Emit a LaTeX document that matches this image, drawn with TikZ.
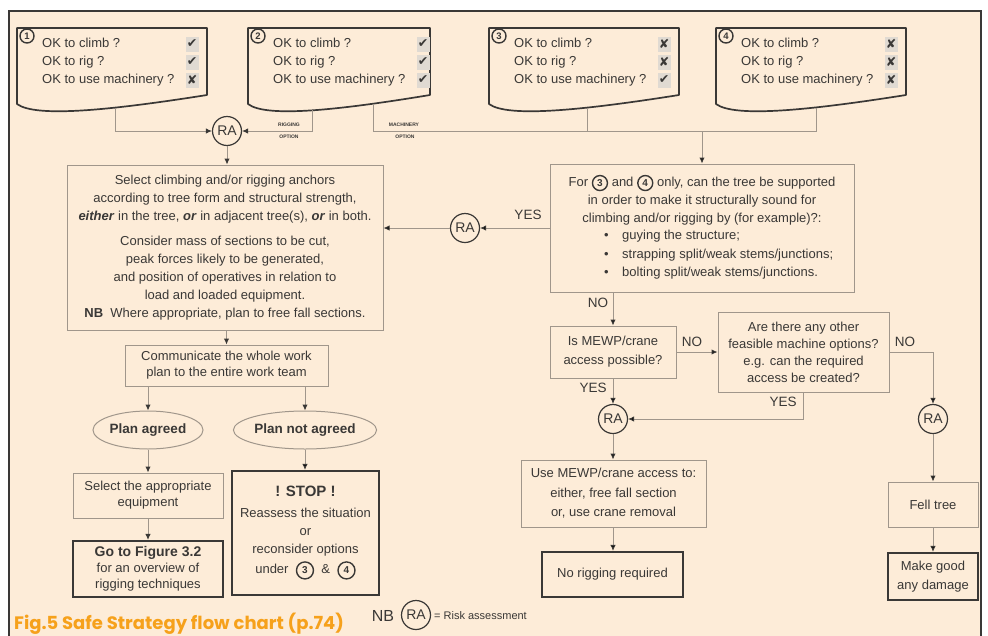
\documentclass[tikz,border=0pt]{standalone}
\usepackage{fontspec}
\setmainfont{Liberation Sans}
\newfontfamily\symf{DejaVu Sans}
\newfontfamily\capf{Poppins}
\usetikzlibrary{arrows.meta,shapes.geometric}
\definecolor{panel}{HTML}{FDECD8}
\definecolor{ink}{HTML}{3A3836}
\definecolor{thinc}{HTML}{A0968B}
\definecolor{darkc}{HTML}{3A3836}
\definecolor{capc}{HTML}{F6A11B}
\definecolor{mkbg}{HTML}{E0DAD2}
\newcommand\fss[1]{\fontsize{13}{#1}\selectfont}
\newcommand\cn[2][15pt]{\tikz[baseline=(cnn.base)]\node[circle,draw=darkc,line width=1.4pt,minimum size=#1,inner sep=0pt,text=ink,font=\bfseries\fontsize{10}{10}\selectfont] (cnn) {#2};}
\begin{document}
\begin{tikzpicture}[x=1pt,y=-1pt,
  every node/.style={text=ink},
  tbox/.style={draw=thinc,line width=1pt,fill=panel,align=center,inner sep=0pt},
  kbox/.style={draw=darkc,line width=2.2pt,fill=panel,align=center,inner sep=0pt},
  ra/.style={circle,draw=darkc,line width=1.2pt,fill=panel,minimum size=29pt,inner sep=0pt,font=\fontsize{14}{14}\selectfont},
  conn/.style={draw=thinc,line width=1pt},
  arr/.style={conn,-{Latex[length=6pt,width=5.5pt,color=darkc]}},
  lbl/.style={font=\fontsize{13.5}{13.5}\selectfont,inner sep=0pt},
  tinyl/.style={font=\fontsize{5}{5}\selectfont\bfseries,inner sep=0pt},
  mk/.style={fill=mkbg,minimum width=13pt,minimum height=15pt,inner sep=0pt,font=\symf\fontsize{12.5}{12.5}\selectfont},
  cnum/.style={circle,draw=darkc,line width=1.4pt,minimum size=14pt,inner sep=0pt,fill=panel,font=\bfseries\fontsize{9.5}{9.5}\selectfont},
  ell/.style={ellipse,draw=thinc,line width=1pt,fill=panel,minimum width=110pt,minimum height=38pt,inner sep=0pt,font=\bfseries\fontsize{13.5}{13.5}\selectfont}
]
\useasboundingbox (0,0) rectangle (988,635);
\fill[white] (0,0) rectangle (988,635);
\draw[draw=darkc,line width=1.2pt,fill=panel] (9,11) rectangle (981,660);

% ---------- top document boxes ----------
\foreach \L/\R/\n/\a/\b/\c [count=\i] in {17/207/1/✔/✔/✘, 248/430/2/✔/✔/✔, 489/679/3/✘/✘/✔, 716/906/4/✘/✘/✘}{
  \pgfmathsetmacro\W{\R-\L}
  \draw[darkc,line width=1.7pt,fill=panel,line join=round] (\L,104) -- (\L,28) -- (\R,28) -- (\R,95)
     .. controls ({\L+0.5*\W},110) and ({\L+0.1*\W},118) .. (\L,104) -- cycle;
  \node[anchor=west,align=left,inner sep=0pt,font=\fss{18}] (q\i) at ({\L+25},62) {OK to climb ?\\OK to rig ?\\OK to use machinery ?};
  \node[cnum] (n\i) at ({\L+10},36) {\n};
  \node[mk] (ma\i) at ({\L+175},44) {\a};
  \node[mk] (mb\i) at ({\L+175},62) {\b};
  \node[mk] (mc\i) at ({\L+175},80) {\c};
}
\coordinate (d1) at (115,108);
\coordinate (d2r) at (312,110);
\coordinate (d2m) at (373,104);
\coordinate (d3) at (587,108);
\coordinate (d4) at (816,108);
\coordinate (mline) at (816,131);

\node[ra] (ra1) at (227,131) {RA};
\draw[arr] (d1) |- (ra1.west);
\draw[arr] (d2r) |- (ra1.east);
\node[tinyl] (rig1) at (289,125) {RIGGING};
\node[tinyl] (rig2) at (289,137) {OPTION};
\node[tinyl] (mac1) at (404,125) {MACHINERY};
\node[tinyl] (mac2) at (405,137) {OPTION};

% ---------- left column ----------
\node[tbox,minimum width=316pt,minimum height=165pt,font=\fss{18}] (sel) at (225,247.5)
{Select climbing and/or rigging anchors\\
according to tree form and structural strength,\\
\textbf{\textit{either}} in the tree, \textbf{\textit{or}} in adjacent tree(s), \textbf{\textit{or}} in both.\\[7pt]
Consider mass of sections to be cut,\\
peak forces likely to be generated,\\
and position of operatives in relation to\\
load and loaded equipment.\\
\textbf{NB}\ \ Where appropriate, plan to free fall sections.};
\draw[arr] (ra1.south) -- (ra1.south|-sel.north);

\node[tbox,minimum width=203pt,minimum height=41pt,font=\fss{16}] (comm) at (226.5,365.5)
{Communicate the whole work\\plan to the entire work team};
\draw[arr] (sel.south-|comm) -- (comm.north);

\node[ell] (pa) at (148,430) {Plan agreed};
\node[ell] (pna) at (305,430) {Plan not agreed};
\draw[arr] (comm.south-|pa) -- (pa.north);
\draw[arr] (comm.south-|pna) -- (pna.north);

\node[tbox,minimum width=150pt,minimum height=45pt,font=\fss{16}] (seq) at (148,495.5)
{Select the appropriate\\equipment};
\draw[arr] (pa.south) -- (seq.north);

\node[kbox,minimum width=150pt,minimum height=56pt,font=\fss{16}] (goto) at (148,569)
{{\bfseries\fontsize{14}{16}\selectfont Go to Figure 3.2}\\for an overview of\\rigging techniques};
\draw[arr] (seq.south) -- (goto.north);

\node[kbox,minimum width=147pt,minimum height=124pt,font=\fss{18}] (stop) at (305.5,533)
{{\bfseries\fontsize{15}{15}\selectfont ! STOP !}\\[3pt]
Reassess the situation\\or\\reconsider options\\[2pt]under\ \ \cn[17pt]{3}\ \ \&\ \ \cn[17pt]{4}};
\draw[arr] (pna.south) -- (pna.south|-stop.north);

% ---------- right column ----------
\node[tbox,minimum width=304pt,minimum height=128pt] (f34) at (702,228) {};
\node[inner sep=0pt,align=center,font=\fss{18}] (f34t) at (702,200)
{For \cn{3} and \cn{4} only, can the tree be supported\\
in order to make it structurally sound for\\
climbing and/or rigging by (for example)?:};
\node[inner sep=0pt,align=left,anchor=west,font=\fss{18.5}] (f34b) at (604,255)
{\makebox[18pt][l]{•}guying the structure;\\
\makebox[18pt][l]{•}strapping split/weak stems/junctions;\\
\makebox[18pt][l]{•}bolting split/weak stems/junctions.};
\draw[conn] (d2m) |- (mline) -- (d4);
\draw[conn] (d3) -- (d3|-mline);
\draw[arr] (f34.north|-mline) -- (f34.north);

\node[ra] (ra2) at (465,228) {RA};
\draw[arr] (f34.west) -- (ra2.east);
\draw[arr] (ra2.west) -- (ra2.west-|sel.east);
\node[lbl] (yes1) at (528,215) {YES};

\node[tbox,minimum width=126pt,minimum height=52pt,font=\fss{19}] (mewp) at (613,352)
{Is MEWP/crane\\access possible?};
\draw[arr] (f34.south-|mewp) -- (mewp.north);
\node[lbl] (no1) at (598,303) {NO};

\node[tbox,minimum width=171pt,minimum height=80pt,font=\fss{17}] (oth) at (803.5,352)
{Are there any other\\feasible machine options?\\e.g. can the required\\access be created?};
\draw[arr] (mewp.east) -- (oth.west);
\node[lbl] (no2) at (692,342) {NO};

\node[ra] (ra3) at (613,419) {RA};
\draw[arr] (mewp.south) -- (ra3.north);
\node[lbl] (yes2) at (593,388) {YES};
\draw[arr] (oth.south) |- (ra3.east);
\node[lbl] (yes3) at (783,402) {YES};

\node[ra] (ra4) at (933,419) {RA};
\draw[arr] (oth.east) -| (ra4.north);
\node[lbl] (no3) at (905,342) {NO};

\node[tbox,minimum width=185pt,minimum height=67pt,font=\fss{19.5}] (usem) at (613.5,493.5)
{Use MEWP/crane access to:\\either, free fall section\\or, use crane removal};
\draw[arr] (ra3.south) -- (ra3.south|-usem.north);

\node[kbox,minimum width=141pt,minimum height=45pt,font=\fss{18}] (norig) at (612.5,574.5)
{No rigging required};
\draw[arr] (usem.south-|ra3) -- (norig.north-|ra3);

\node[tbox,minimum width=90pt,minimum height=45pt,font=\fss{18}] (fell) at (933,504.5) {Fell tree};
\draw[arr] (ra4.south) -- (fell.north);

\node[kbox,minimum width=90pt,minimum height=47pt,font=\fss{19}] (make) at (933,576.5)
{Make good\\any damage};
\draw[arr] (fell.south) -- (make.north);

% ---------- legend and caption ----------
\node[inner sep=0pt,font=\fontsize{16}{16}\selectfont] (nb) at (383,616) {NB};
\node[ra] (ra5) at (416,615) {RA};
\node[inner sep=0pt,anchor=west,font=\fontsize{11}{11}\selectfont] (leg) at (434,616) {= Risk assessment};
\node[anchor=base west,inner sep=0pt,text=capc,font=\capf\bfseries\fontsize{18}{18}\selectfont] (cap) at (14,629)
{Fig.5 Safe Strategy flow chart (p.74)};
\end{tikzpicture}
\end{document}
